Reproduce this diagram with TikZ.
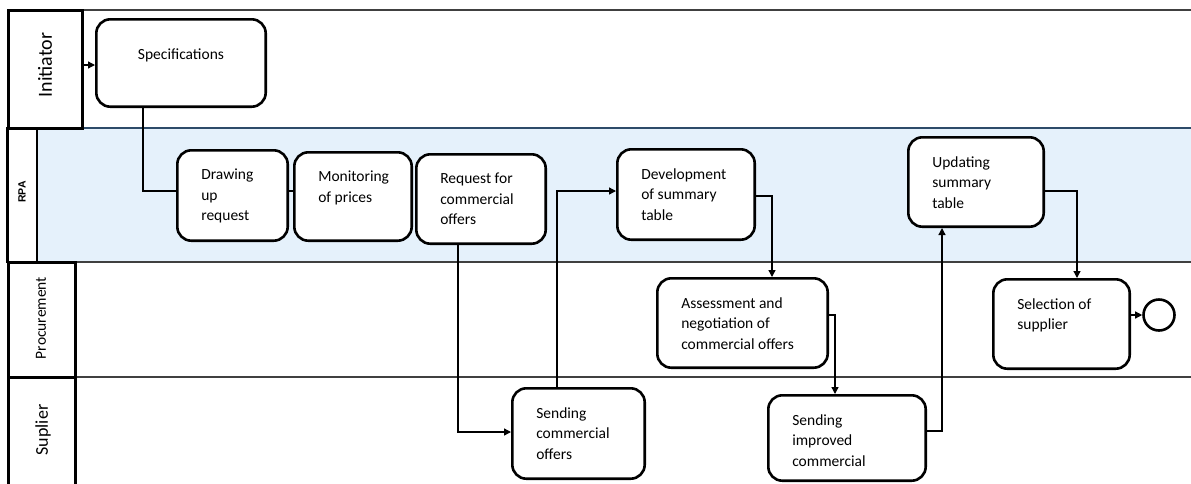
\documentclass[tikz,border=0pt]{standalone}
\usepackage{fontspec}
\setmainfont{Carlito}
\newfontfamily\arialfont{Liberation Sans}
\usetikzlibrary{arrows.meta}
\definecolor{rpafill}{RGB}{229,241,251}
\definecolor{laneline}{RGB}{64,64,64}
\definecolor{rpaline}{RGB}{45,75,105}

% task box: name, left, top, right, bottom, text (text set top-left inside)
\newcommand\procbox[6]{%
  \pgfmathsetmacro\bxW{#4-#2-2.6}\pgfmathsetmacro\bxH{#5-#3-2.6}%
  \pgfmathsetmacro\bxX{(#2+#4)/2}\pgfmathsetmacro\bxY{(#3+#5)/2}%
  \pgfmathsetmacro\bxPW{\bxW-48}\pgfmathsetmacro\bxPH{\bxH-38}%
  \node[task, minimum width=\bxW pt, minimum height=\bxH pt] (#1) at (\bxX,\bxY)
    {\parbox[c][\bxPH pt][t]{\bxPW pt}{\raggedright\fontsize{15.5}{20.5}\selectfont #6}};%
}

\begin{document}
\begin{tikzpicture}[x=1pt,y=-1pt,
  task/.style={draw=black, line width=2.6pt, rounded corners=14pt, fill=white, inner sep=0pt},
  hdrbox/.style={draw=black, line width=3pt, inner sep=0pt},
  lane/.style={draw=laneline, line width=1.6pt},
  flow/.style={draw=black, line width=1.3pt, -{Triangle[length=7pt,width=7pt]}},
  plain/.style={draw=black, line width=1.3pt},
  hdrtext/.style={rotate=90, inner sep=0pt}
]
\useasboundingbox (0,0) rectangle (1191,483);

% lanes
\fill[rpafill] (37,128) rectangle (1195,262);
\draw[lane] (82,10) -- (1195,10);
\draw[draw=rpaline, line width=1.6pt] (82,128) -- (1195,128);
\draw[lane] (37,262) -- (1195,262);
\draw[lane] (75,377) -- (1195,377);

% lane headers
\node[hdrbox, minimum width=74pt, minimum height=118pt] (hInit) at (45,69) {};
\node[draw=black, line width=1.2pt, inner sep=0pt, minimum width=29pt, minimum height=134pt] (hRPA) at (22.5,195) {};
\draw[draw=black, line width=2pt] (hRPA.north west) -- (hRPA.south west);
\node[hdrbox, minimum width=67pt, minimum height=115pt] (hProc) at (41.5,319.5) {};
\node[hdrbox, minimum width=67pt, minimum height=115pt] (hSup) at (41.5,434.5) {};

\node[hdrtext, font=\fontsize{20}{24}\selectfont] (tInit) at (45,65) {Initiator};
\node[hdrtext, font=\arialfont\bfseries\fontsize{10.5}{12}\selectfont] (tRPA) at (22,192) {RPA};
\node[hdrtext, font=\fontsize{15.5}{18}\selectfont] (tProc) at (41,318) {Procurement};
\node[hdrtext, font=\fontsize{18}{22}\selectfont] (tSup) at (43,430) {Suplier};

% tasks
\node[task, minimum width=169.4pt, minimum height=87.4pt] (spec) at (181,63)
  {\parbox[c][29pt][t]{150pt}{\centering\fontsize{15.5}{20.5}\selectfont Specifications}};
\procbox{drw}{176}{149}{289}{242}{Drawing\\up\\request}
\procbox{mon}{293}{151}{413}{242}{Monitoring\\of prices}
\procbox{req}{415}{153}{547}{245}{Request for\\commercial\\offers}
\procbox{dev}{616}{148}{756}{241}{Development\\of summary\\table}
\procbox{upd}{907}{136}{1045}{228}{Updating\\summary\\table}
\procbox{ass}{656}{277}{829}{369}{Assessment and\\negotiation of\\commercial offers}
\procbox{sel}{992}{278}{1131}{370}{Selection of\\supplier}
\procbox{sco}{511}{387}{646}{480}{Sending\\commercial\\offers}
\procbox{sic}{767}{394}{927}{482}{Sending\\improved\\commercial}

\node[circle, draw=black, line width=2.6pt, minimum size=31pt, inner sep=0pt] (end) at (1159,315) {};

% sequence flows
\draw[flow] (hInit.east |- 0,65) -- (spec.west |- 0,65);
\draw[plain] (spec.south -| 143,0) |- (drw.west |- 0,191);
\draw[plain] (drw.east |- 0,191) -- (mon.west |- 0,191);
\draw[flow] (req.south -| 458,0) |- (sco.west |- 0,432);
\draw[flow] (sco.north -| 557,0) |- (dev.west |- 0,191);
\draw[flow] (dev.east |- 0,196) -| (ass.north -| 772,0);
\draw[flow] (ass.east |- 0,315) -| (sic.north -| 835,0);
\draw[flow] (sic.east |- 0,431) -| (upd.south -| 942,0);
\draw[flow] (upd.east |- 0,191) -| (sel.north -| 1077,0);
\draw[flow] (sel.east |- 0,315) -- (end.west);
\end{tikzpicture}
\end{document}
